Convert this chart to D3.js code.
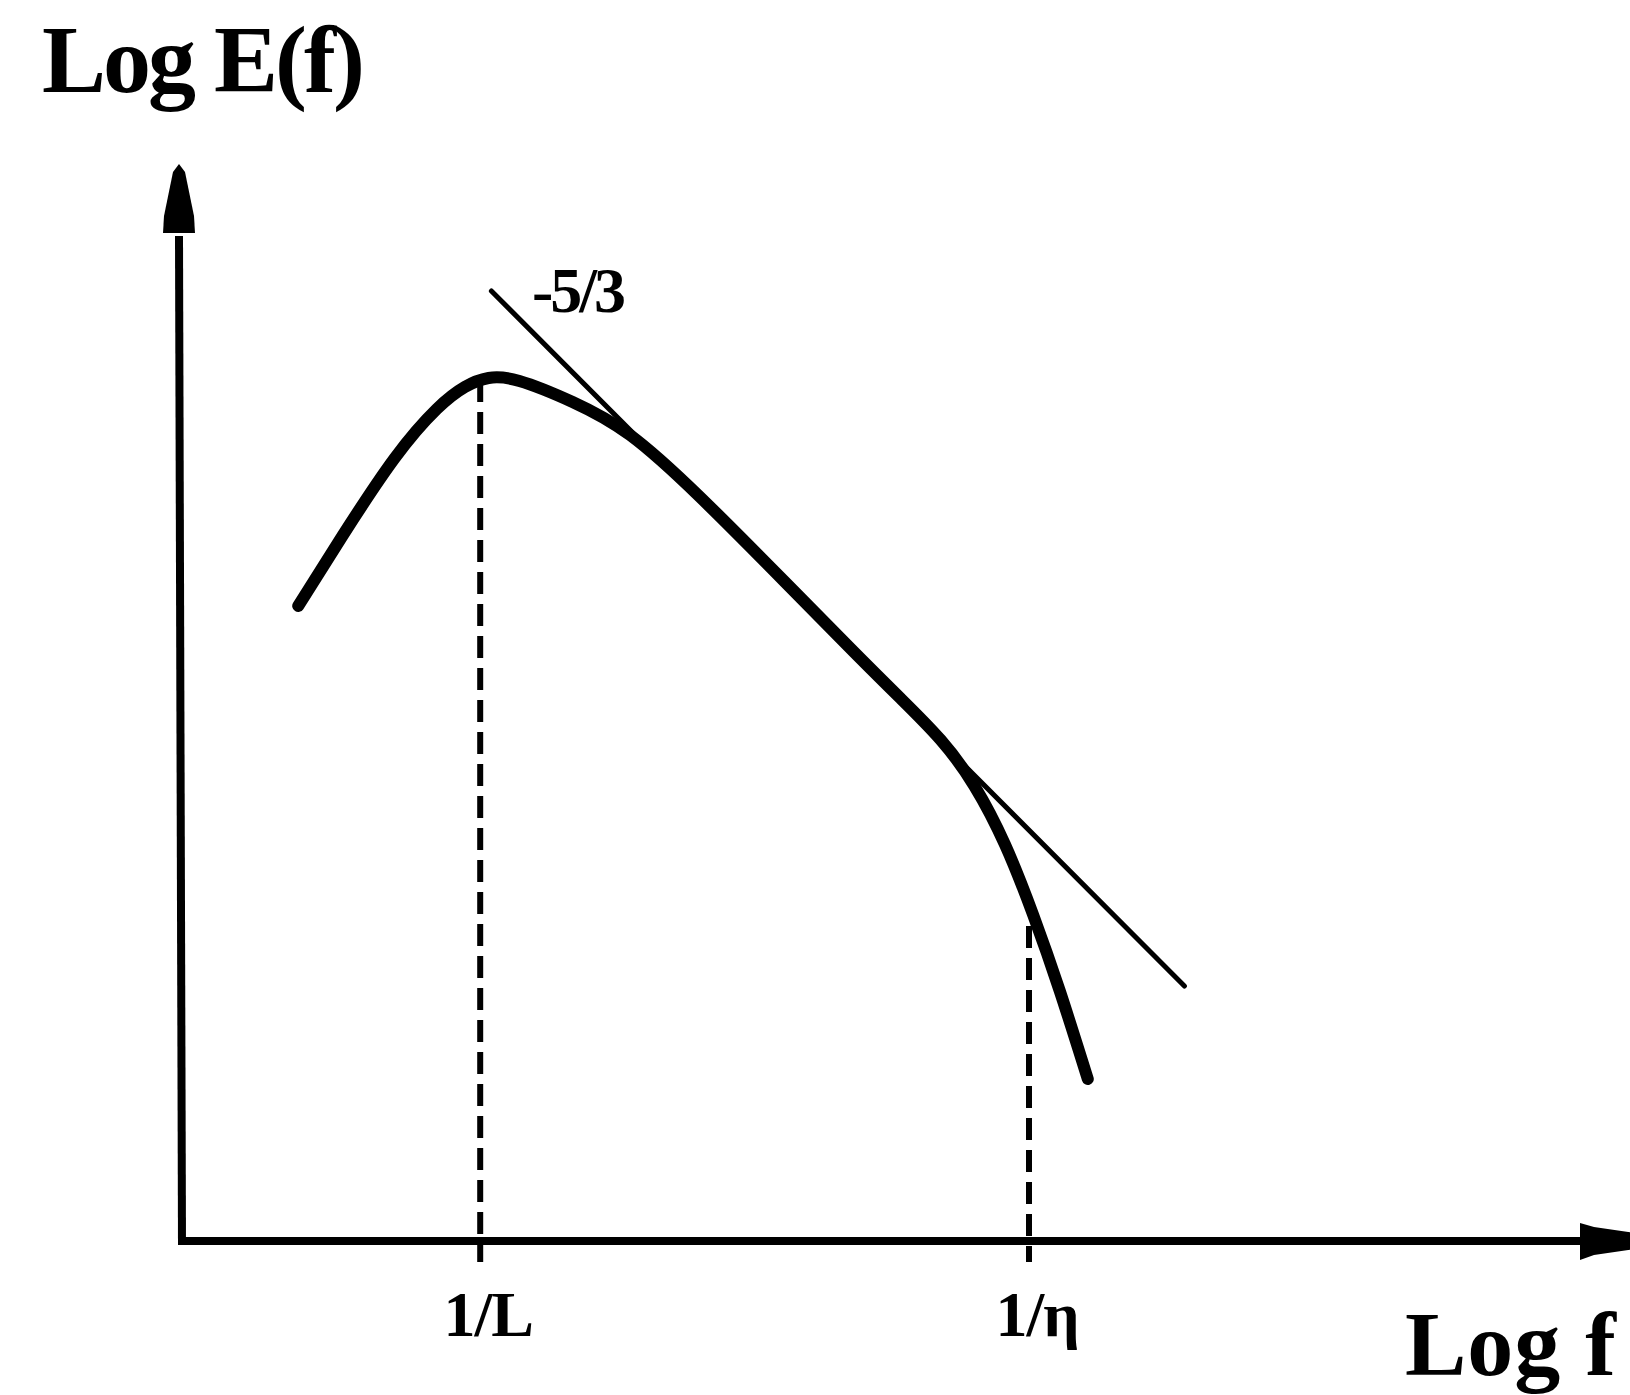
<!DOCTYPE html>
<html>
<head>
<meta charset="utf-8">
<script src="https://cdn.jsdelivr.net/npm/d3@7"></script>
<style>
  html, body { margin: 0; padding: 0; background: #fff; }
  svg { display: block; }
  text { font-family: "Liberation Serif", "DejaVu Serif", serif; font-weight: bold; fill: #000; }
</style>
</head>
<body>
<svg id="chart" width="1630" height="1395"></svg>
<script>
// Energy spectrum sketch: log E(f) against log f (arbitrary units, 0–100 on each axis)
const spectrumLogF = [8.3, 11.5, 15.2, 18.2, 20.2, 21.9, 24.1, 27.9, 32.0, 37.0, 43.0, 48.0, 51.3, 54.2, 56.6, 58.8, 60.8, 62.7, 64.7];
const spectrumLogE = [63.5, 70.6, 78.3, 83.2, 85.4, 86.3, 86.0, 83.9, 80.6, 74.4, 66.0, 58.9, 54.3, 50.1, 45.5, 39.6, 32.6, 25.0, 16.2];

// Inertial-range reference line, slope -5/3 in log-log units
const slopeLineLogF = [22.1, 71.6];
const slopeLineLogE = [95.0, 25.5];
const slopeLabel = "-5/3";
const slopeLabelAt = [25.0, 92.9];

// Characteristic scales marked on the frequency axis
const markLabels = ["1/L", "1/\u03b7"];
const markLogF = [21.3, 60.5];
const markTopLogE = [86.1, 31.5];

const yTitle = "Log E(f)";
const xTitle = "Log f";

const svg = d3.select("#chart");

const x = d3.scaleLinear().domain([0, 100]).range([182, 1582]);
const y = d3.scaleLinear().domain([0, 100]).range([1241, 241]);

// Axes drawn as arrows from the origin
const axes = svg.append("g").attr("stroke", "#000").attr("stroke-width", 8).attr("fill", "none");
axes.append("line")
  .attr("x1", x(0) - 4).attr("y1", y(0))
  .attr("x2", x(100)).attr("y2", y(0));
axes.append("line")
  .attr("x1", x(0)).attr("y1", y(0) + 4)
  .attr("x2", x(0) - 3).attr("y2", y(100) - 5);

// Arrowheads
const ax = x(0) - 3, ayTop = y(100);
svg.append("path")
  .attr("d", `M${ax},${ayTop - 77} L${ax - 6},${ayTop - 69} L${ax - 15},${ayTop - 25} L${ax - 16},${ayTop - 8} L${ax + 16},${ayTop - 8} L${ax + 15},${ayTop - 25} L${ax + 6},${ayTop - 69} Z`)
  .attr("fill", "#000");
const bx = x(100) - 2, by = y(0);
svg.append("path")
  .attr("d", `M${bx},${by - 18} L${bx + 14},${by - 14} L${bx + 110},${by} L${bx + 14},${by + 14} L${bx},${by + 19} Z`)
  .attr("fill", "#000");

// Dashed markers at 1/L and 1/eta
svg.append("g").selectAll("line")
  .data(markLogF)
  .join("line")
  .attr("x1", d => x(d)).attr("x2", d => x(d))
  .attr("y1", (d, i) => y(markTopLogE[i]))
  .attr("y2", y(0) + 21)
  .attr("stroke", "#000")
  .attr("stroke-width", 6)
  .attr("stroke-dasharray", "22 10");

// -5/3 reference line
svg.append("line")
  .attr("x1", x(slopeLineLogF[0])).attr("y1", y(slopeLineLogE[0]))
  .attr("x2", x(slopeLineLogF[1])).attr("y2", y(slopeLineLogE[1]))
  .attr("stroke", "#000")
  .attr("stroke-width", 5)
  .attr("stroke-linecap", "round");

// Spectrum curve
const pts = spectrumLogF.map((f, i) => [f, spectrumLogE[i]]);
const line = d3.line()
  .x(d => x(d[0]))
  .y(d => y(d[1]))
  .curve(d3.curveNatural);
svg.append("path")
  .datum(pts)
  .attr("d", line)
  .attr("fill", "none")
  .attr("stroke", "#000")
  .attr("stroke-width", 12)
  .attr("stroke-linecap", "round")
  .attr("stroke-linejoin", "round");

// Labels
svg.append("text")
  .attr("x", x(slopeLabelAt[0])).attr("y", y(slopeLabelAt[1]))
  .attr("font-size", 64)
  .attr("letter-spacing", -3)
  .text(slopeLabel);

svg.append("g").selectAll("text")
  .data(markLabels)
  .join("text")
  .attr("x", (d, i) => x(markLogF[i]) + 8)
  .attr("y", 1336)
  .attr("text-anchor", "middle")
  .attr("font-size", 64)
  .attr("letter-spacing", -1)
  .text(d => d);

svg.append("text")
  .attr("x", 42).attr("y", 92)
  .attr("font-size", 96)
  .attr("letter-spacing", -3)
  .text(yTitle);

svg.append("text")
  .attr("x", 1405).attr("y", 1375)
  .attr("font-size", 92)
  .attr("letter-spacing", 1)
  .text(xTitle);
</script>
</body>
</html>
